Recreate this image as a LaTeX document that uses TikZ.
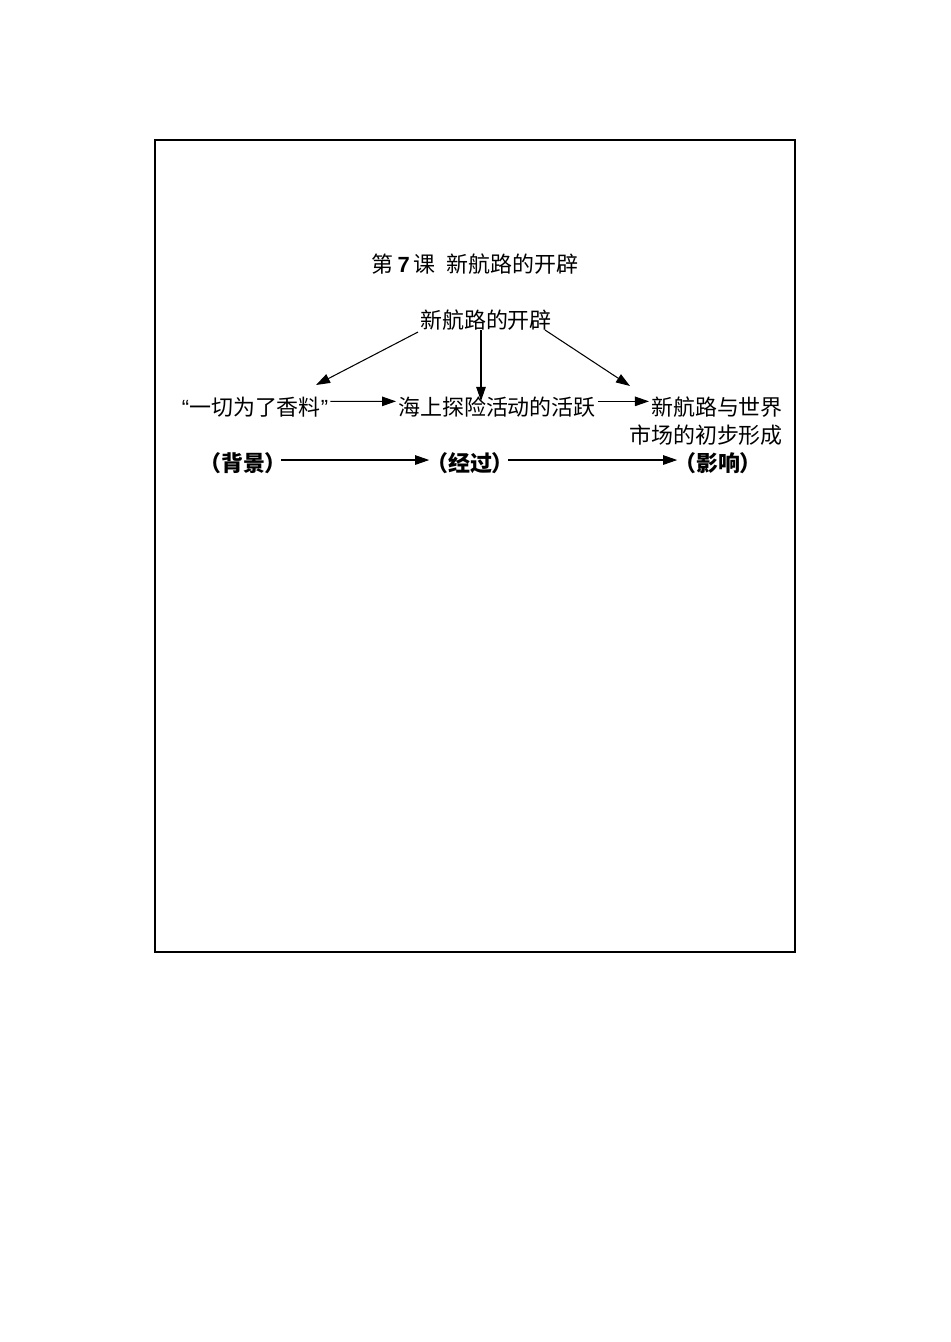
\documentclass[tikz,border=0pt]{standalone}
\usepackage{fontspec}
\setmainfont{Liberation Sans}
\newfontfamily\cjk{Noto Sans CJK SC}
\usetikzlibrary{arrows.meta}
\tikzset{
  lbl/.style={inner sep=1pt,anchor=base,font=\cjk\fontsize{12.5}{15}\selectfont},
  bold lbl/.style={lbl,font=\cjk\bfseries\fontsize{12.5}{15}\selectfont},
  arr/.style={-{Triangle[length=8pt,width=5.4pt]},line width=0.6pt},
  paren arr/.style={arr,shorten <=-4.5pt,shorten >=-3pt}
}
\begin{document}
\begin{tikzpicture}[x=0.02cm,y=-0.02cm]
  \useasboundingbox (0,0) rectangle (950,1342);
  \draw[line width=0.6pt] (155,140) rectangle (795,952);
  \node[lbl] (title) at (475,272) {第\,{\fontspec{Liberation Sans}\bfseries 7}\,课\hspace{0.5em}新航路的开辟};
  \node[lbl] (top) at (486,328) {新航路的开辟};
  \node[lbl] (bg) at (255,415) {{\fontspec{Liberation Sans}“}一切为了香料{\fontspec{Liberation Sans}”}};
  \node[lbl] (gc) at (497,415) {海上探险活动的活跃};
  \node[lbl,anchor=base east] (imp1) at (785,415) {新航路与世界};
  \node[lbl,anchor=base east] (imp2) at (785,443) {市场的初步形成};
  \node[bold lbl] (bj) at (243,471) {（背景）};
  \node[bold lbl] (jg) at (470,471) {（经过）};
  \node[bold lbl] (yx) at (718,471) {（影响）};
  \coordinate (tipL) at (316,385);
  \coordinate (fromM) at (481,330);
  \coordinate (tipM) at (481,401);
  \coordinate (fromR) at (545,330);
  \coordinate (tipR) at (630,386);
  \path[arr] (top.south west) edge (tipL);
  \path[arr] (fromM) edge (tipM);
  \path[arr] (fromR) edge (tipR);
  \path[arr] ([yshift=3pt]bg.east) edge ([yshift=3pt]gc.west);
  \path[arr] ([yshift=3pt]gc.east) edge ([yshift=3pt]gc.east -| imp1.west);
  \path[paren arr] ([yshift=1.5pt]bj.east) edge ([yshift=1.5pt]jg.west);
  \path[paren arr] ([yshift=1.5pt]jg.east) edge ([yshift=1.5pt]yx.west);
\end{tikzpicture}
\end{document}
